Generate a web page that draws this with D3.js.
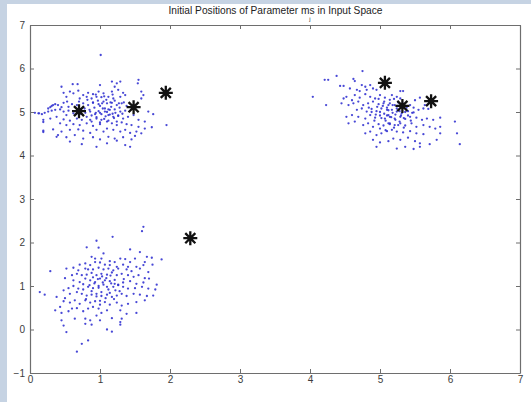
<!DOCTYPE html>
<html><head><meta charset="utf-8">
<script src="https://cdn.jsdelivr.net/npm/d3@7"></script>
<style>html,body{margin:0;padding:0;background:#fff;}svg{display:block;}</style>
</head><body>
<script>
const titleText = "Initial Positions of Parameter ms in Input Space";
const xTicks = [0,1,2,3,4,5,6,7];
const yTicks = [-1,0,1,2,3,4,5,6,7];

// cluster around (1,5)
const clusterA = [
[1.01,6.31],[0.45,5.58],[0.61,5.64],[0.68,5.64],[1.00,5.62],[0.48,5.44],[0.57,5.47],[0.62,5.43],[0.69,5.49],[0.76,5.39],
[0.83,5.44],[0.90,5.41],[0.98,5.47],[1.05,5.43],[0.52,5.35],[0.71,5.31],[0.81,5.35],[0.88,5.31],[0.95,5.35],[1.02,5.34],
[0.31,5.14],[0.36,5.18],[0.40,5.16],[0.48,5.21],[0.53,5.24],[0.60,5.18],[0.67,5.16],[0.76,5.20],[0.83,5.16],[0.90,5.21],
[0.98,5.18],[1.05,5.24],[0.26,5.08],[0.45,5.11],[0.55,5.12],[0.12,4.97],[0.17,4.95],[0.21,4.98],[0.26,5.01],[0.31,5.03],
[0.36,5.05],[0.43,5.06],[0.48,5.01],[0.55,5.03],[0.62,4.97],[0.79,4.98],[0.86,5.01],[0.93,4.95],[1.00,4.98],[1.07,5.01],
[0.52,4.93],[0.19,4.82],[0.29,4.85],[0.38,4.89],[0.48,4.83],[0.57,4.80],[0.67,4.85],[0.74,4.82],[0.81,4.89],[0.88,4.78],
[0.95,4.85],[1.02,4.82],[0.43,4.74],[0.52,4.70],[0.62,4.72],[0.71,4.70],[0.81,4.74],[0.90,4.68],[1.00,4.72],[0.19,4.57],
[0.33,4.60],[0.45,4.55],[0.57,4.59],[0.69,4.60],[0.76,4.57],[0.86,4.52],[0.95,4.59],[1.05,4.55],[0.40,4.47],[0.52,4.42],
[0.64,4.47],[0.76,4.39],[0.90,4.42],[1.00,4.37],[0.57,4.32],[0.74,4.26],[0.95,4.20],
[1.17,5.70],[1.24,5.66],[1.29,5.70],[1.21,5.58],[1.55,5.74],[1.54,5.66],[1.17,5.47],[1.26,5.51],[1.33,5.44],[1.59,5.47],
[1.62,5.39],[1.12,5.35],[1.19,5.31],[1.29,5.35],[1.36,5.39],[1.59,5.31],[1.10,5.20],[1.17,5.21],[1.24,5.16],[1.31,5.20],
[1.38,5.14],[1.69,5.01],[1.76,4.95],[1.07,5.08],[1.14,5.05],[1.21,5.06],[1.29,5.01],[1.36,5.03],[1.12,4.93],[1.19,4.89],
[1.26,4.91],[1.33,4.85],[1.40,4.89],[1.48,4.93],[1.55,4.82],[1.64,4.78],[1.10,4.78],[1.17,4.74],[1.24,4.70],[1.31,4.76],
[1.38,4.72],[1.45,4.70],[1.55,4.66],[1.64,4.62],[1.74,4.65],[1.10,4.62],[1.19,4.59],[1.29,4.55],[1.36,4.59],[1.43,4.52],
[1.52,4.55],[1.59,4.51],[1.95,4.70],[1.12,4.43],[1.21,4.39],[1.33,4.42],[1.45,4.37],[1.50,4.45],[1.10,4.28],[1.24,4.34],
[1.36,4.24],[1.43,4.20],
[0.07,4.98],[0.13,4.97],[0.19,4.77],[0.19,4.54],[0.38,4.43],[0.29,5.11],[0.33,5.16],
[0.85,5.05],[0.92,5.10],[0.98,5.02],[1.04,5.08],[1.10,5.00],[1.16,5.12],[1.22,4.98],[1.28,5.10],[0.88,4.92],[0.95,4.88],
[1.02,4.95],[1.08,4.90],[1.14,4.94],[1.20,4.86],[1.26,4.92],[0.90,5.22],[0.97,5.26],[1.03,5.20],[1.09,5.28],[1.15,5.22],
[1.21,5.26],[1.27,5.20],[0.82,5.28],[0.86,4.82],[1.00,4.76],[1.12,4.80],[1.24,4.78],[1.32,4.96],[1.34,5.22],[0.78,5.08],
[0.72,4.96],[0.70,5.24],[1.06,5.36],[1.18,5.40],[0.94,5.40],[1.00,5.14],[1.12,5.06],[0.94,4.98],[1.06,4.84],[1.18,4.96]
];

// cluster around (5,5)
const clusterB = [
[4.04,5.35],[4.23,5.16],[4.21,5.74],[4.26,5.74],[4.38,5.83],[4.75,5.94],[4.43,5.60],[4.48,5.60],[4.62,5.76],[4.64,5.71],
[4.74,5.62],[4.79,5.58],[4.86,5.62],[4.57,5.54],[4.67,5.51],[4.71,5.48],[4.81,5.51],[4.90,5.54],[4.95,5.51],[4.48,5.31],
[4.52,5.35],[4.60,5.27],[4.64,5.39],[4.71,5.33],[4.79,5.41],[4.86,5.35],[4.93,5.31],[5.00,5.39],[5.07,5.33],[4.45,5.20],
[4.55,5.16],[4.62,5.20],[4.69,5.24],[4.76,5.16],[4.83,5.20],[4.90,5.24],[4.98,5.18],[5.05,5.20],[5.12,5.16],[4.67,5.05],
[4.74,5.08],[4.81,5.01],[4.88,5.07],[4.95,5.02],[5.02,5.08],[5.10,5.05],[4.52,4.89],[4.60,4.93],[4.69,4.89],[4.79,4.85],
[4.86,4.93],[4.93,4.87],[5.00,4.92],[5.07,4.85],[5.12,4.93],[4.55,4.74],[4.64,4.78],[4.76,4.70],[4.83,4.74],[4.90,4.66],
[4.98,4.72],[5.05,4.69],[5.12,4.74],[4.79,4.51],[4.86,4.55],[4.95,4.47],[5.02,4.51],[5.10,4.56],[4.90,4.36],[5.00,4.30],
[5.12,4.33],[4.95,4.20],
[5.29,5.48],[5.33,5.48],[5.17,5.39],[5.24,5.35],[5.29,5.31],[5.50,5.27],[5.57,5.33],[5.64,5.16],[5.14,5.20],[5.21,5.16],
[5.26,5.22],[5.43,5.16],[5.48,5.10],[5.17,5.05],[5.24,5.01],[5.31,4.97],[5.40,5.02],[5.48,4.99],[5.55,5.05],[5.62,5.08],
[5.69,5.07],[5.14,4.89],[5.21,4.85],[5.29,4.89],[5.36,4.84],[5.43,4.89],[5.52,4.87],[5.60,4.82],[5.67,4.85],[5.76,4.82],
[5.86,4.87],[6.07,4.78],[6.10,4.51],[6.14,4.26],[5.14,4.74],[5.21,4.70],[5.29,4.74],[5.36,4.69],[5.45,4.74],[5.52,4.66],
[5.62,4.70],[5.71,4.66],[5.79,4.62],[5.86,4.66],[5.17,4.59],[5.24,4.55],[5.33,4.53],[5.43,4.56],[5.52,4.51],[5.62,4.49],
[5.86,4.51],[5.19,4.39],[5.29,4.36],[5.40,4.41],[5.50,4.33],[5.57,4.28],[5.71,4.26],[5.81,4.36],[5.24,4.16],[5.36,4.20],
[5.48,4.15],[5.57,4.20],
[5.00,5.00],[5.06,4.96],[5.12,5.04],[5.18,4.98],[5.24,5.08],[5.30,4.92],[5.36,5.00],[4.94,4.94],[5.02,4.86],[5.08,4.80],
[5.16,4.88],[5.22,4.82],[5.28,4.78],[5.34,4.86],[5.40,4.92],[4.96,5.12],[5.04,5.14],[5.10,5.10],[5.18,5.16],[5.26,5.14],
[5.32,5.20],[5.38,5.10],[4.88,5.00],[4.84,5.10],[5.14,4.72],[5.20,4.64],[5.26,4.70],[5.44,4.80],[5.46,4.98],[5.06,5.24],
[5.14,5.28],[5.20,5.30],[4.98,5.30],[5.10,4.92],[5.22,4.94],[5.28,5.02],[4.92,4.80],[5.00,4.62],[5.08,4.58],[5.34,4.64]
];

// cluster around (1,1)
const clusterC = [
[1.62,2.36],[1.60,2.26],[1.18,2.13],[0.95,2.04],[0.81,1.89],[0.98,1.88],[1.05,1.75],[1.43,1.84],[1.57,1.78],[1.67,1.67],
[1.74,1.65],[1.88,1.61],[0.88,1.67],[0.93,1.63],[1.02,1.63],[1.14,1.57],[1.21,1.55],[1.29,1.63],[1.36,1.62],[1.43,1.55],
[1.50,1.63],[1.64,1.55],[0.71,1.49],[0.79,1.52],[0.86,1.48],[0.93,1.55],[1.00,1.54],[1.07,1.49],[1.14,1.48],[1.24,1.44],
[1.33,1.49],[1.40,1.44],[1.52,1.44],[1.62,1.48],[1.75,1.49],[0.29,1.34],[0.52,1.40],[0.62,1.42],[0.69,1.36],[0.79,1.40],
[0.83,1.38],[0.90,1.38],[0.98,1.42],[1.05,1.38],[1.12,1.40],[1.19,1.36],[1.26,1.40],[1.38,1.38],[1.45,1.34],[1.57,1.40],
[1.69,1.32],[0.50,1.18],[0.60,1.25],[0.67,1.28],[0.74,1.25],[0.81,1.26],[0.88,1.30],[0.95,1.25],[1.02,1.28],[1.10,1.26],
[1.17,1.31],[1.24,1.25],[1.31,1.28],[1.40,1.25],[1.48,1.21],[1.55,1.25],[1.64,1.18],[1.70,1.17],[0.62,1.13],[0.71,1.09],
[0.79,1.17],[0.86,1.13],[0.93,1.09],[1.00,1.17],[1.07,1.13],[1.14,1.11],[1.21,1.05],[1.26,1.03],[1.33,1.08],[1.43,1.11],
[1.52,1.05],[1.62,1.08],[1.81,1.03],[0.14,0.86],[0.21,0.80],[0.38,0.75],[0.48,0.90],[0.55,0.95],[0.62,1.00],[0.69,0.94],
[0.76,0.92],[0.83,0.98],[0.90,0.95],[0.98,1.00],[1.05,1.03],[1.12,0.92],[1.19,0.98],[1.26,1.02],[1.33,0.98],[1.40,0.94],
[1.50,0.95],[1.60,0.98],[1.69,0.94],[1.79,0.92],[0.57,0.82],[0.67,0.86],[0.74,0.82],[0.81,0.78],[0.88,0.80],[0.95,0.82],
[1.02,0.77],[1.10,0.80],[1.17,0.75],[1.24,0.78],[1.31,0.82],[1.38,0.77],[1.48,0.82],[1.57,0.80],[1.67,0.77],[1.76,0.78],
[0.43,0.52],[0.48,0.65],[0.50,0.72],[0.57,0.62],[0.64,0.67],[0.71,0.59],[0.79,0.67],[0.86,0.62],[0.93,0.65],[1.00,0.57],
[1.07,0.63],[1.14,0.57],[1.24,0.62],[1.31,0.55],[1.40,0.59],[1.52,0.63],[1.64,0.67],[0.36,0.44],[0.45,0.38],[0.55,0.42],
[0.60,0.48],[0.67,0.49],[0.76,0.42],[0.83,0.48],[0.90,0.52],[0.98,0.48],[1.02,0.38],[1.10,0.44],[1.29,0.44],[1.38,0.36],
[1.52,0.38],[0.45,0.21],[0.48,0.09],[0.52,-0.06],[0.64,0.25],[0.79,0.25],[0.79,0.13],[0.86,0.21],[0.88,0.11],[0.95,0.32],
[1.00,0.21],[1.17,0.26],[1.29,0.17],[1.31,0.25],[1.10,0.00],[1.17,-0.05],[0.74,-0.33],[0.67,-0.51],[0.83,-0.25],[1.29,0.11],
[0.85,1.02],[0.92,1.06],[0.98,0.96],[1.04,1.08],[1.10,0.98],[1.16,1.06],[1.22,0.90],[0.88,0.88],[0.95,0.76],[1.02,0.86],
[1.08,0.72],[1.14,0.84],[1.20,0.70],[0.90,1.20],[0.97,1.16],[1.03,1.22],[1.09,1.18],[1.15,1.24],[1.21,1.14],[0.80,0.70],
[0.76,1.04],[1.28,0.88],[1.34,1.16],[1.00,0.66]
];

// initial positions of parameters (asterisks)
const centers = [[0.70,5.02],[1.48,5.11],[1.94,5.44],[2.29,2.10],[5.07,5.67],[5.32,5.14],[5.73,5.25]];

const W = 531, H = 402;
const svg = d3.select("body").append("svg").attr("width", W).attr("height", H);

// background frame
svg.append("rect").attr("x",0).attr("y",0).attr("width",W).attr("height",H).attr("fill","#c6d3e3");
svg.append("rect").attr("x",7).attr("y",4).attr("width",W-7).attr("height",H-4).attr("fill","#ffffff");

const x = d3.scaleLinear().domain([0,7]).range([30,520]);
const y = d3.scaleLinear().domain([-1,7]).range([373,25]);

const axisColor = "#6e6e6e";
const labelColor = "#3c3c3c";
const font = "Liberation Sans, Arial, sans-serif";

function styleAxis(g){
  g.select(".domain").attr("stroke", axisColor).attr("stroke-width",1.2);
  g.selectAll(".tick line").attr("stroke", axisColor).attr("stroke-width",1);
  g.selectAll(".tick text").attr("fill", labelColor).style("font-family", font).style("font-size","10px");
}

svg.append("g").attr("transform","translate(0,373)")
  .call(d3.axisBottom(x).tickValues(xTicks).tickSize(-4).tickSizeOuter(0).tickPadding(3).tickFormat(d3.format("d")))
  .call(styleAxis);
svg.append("g").attr("transform","translate(0,25)")
  .call(d3.axisTop(x).tickValues(xTicks).tickSize(-4).tickSizeOuter(0).tickFormat(""))
  .call(styleAxis);
svg.append("g").attr("transform","translate(30,0)")
  .call(d3.axisLeft(y).tickValues(yTicks).tickSize(-4).tickSizeOuter(0).tickPadding(5).tickFormat(d3.format("d")))
  .call(styleAxis);
svg.append("g").attr("transform","translate(520,0)")
  .call(d3.axisRight(y).tickValues(yTicks).tickSize(-4).tickSizeOuter(0).tickFormat(""))
  .call(styleAxis);

// data points
const allPts = clusterA.concat(clusterB, clusterC);
svg.append("g").selectAll("circle").data(allPts).join("circle")
  .attr("cx", d => x(d[0])).attr("cy", d => y(d[1]))
  .attr("r", 1.15).attr("fill", "#2f2fd0").attr("opacity", 0.88);

// asterisks
const r = 7;
const star = `M${-r},0L${r},0M0,${-r}L0,${r}M${-r*0.72},${-r*0.72}L${r*0.72},${r*0.72}M${-r*0.72},${r*0.72}L${r*0.72},${-r*0.72}`;
svg.append("g").selectAll("path").data(centers).join("path")
  .attr("transform", d => `translate(${x(d[0])},${y(d[1])})`)
  .attr("d", star).attr("stroke", "#111").attr("stroke-width", 2.3).attr("fill","none");

// title
svg.append("text").attr("x", 275.5).attr("y", 14).attr("text-anchor","middle")
  .style("font-family", font).style("font-size","10.2px").attr("fill","#222")
  .text(titleText);
svg.append("text").attr("x", 310).attr("y", 21).attr("text-anchor","middle")
  .style("font-family", font).style("font-size","6px").attr("fill","#333")
  .text("j");
</script>
</body></html>
